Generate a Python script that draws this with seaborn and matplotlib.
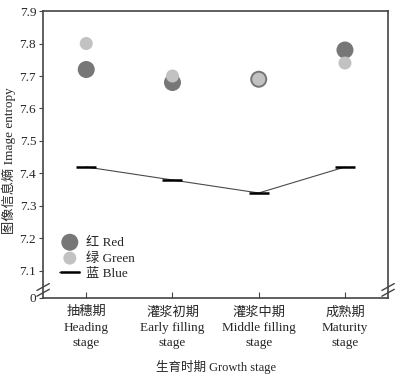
import numpy as np
import pandas as pd
import matplotlib
matplotlib.use("Agg")
import matplotlib.pyplot as plt
import seaborn as sns

stages_cn = ["抽穗期", "灌浆初期", "灌浆中期", "成熟期"]
stages_en = ["Heading\nstage", "Early filling\nstage", "Middle filling\nstage", "Maturity\nstage"]
red = [7.72, 7.68, 7.69, 7.78]
green = [7.80, 7.70, 7.69, 7.74]
blue = [7.42, 7.38, 7.34, 7.42]
yticks = [7.1, 7.2, 7.3, 7.4, 7.5, 7.6, 7.7, 7.8, 7.9]

sns.set_style("ticks")
fonts = ["Liberation Serif", "Noto Sans CJK SC"]
plt.rcParams["font.family"] = fonts
plt.rcParams["axes.unicode_minus"] = False

df = pd.DataFrame({"x": np.arange(len(stages_cn)), "red": red, "green": green, "blue": blue})

fig = plt.figure(figsize=(4.03, 3.80), dpi=100)
ax = fig.add_axes([0.107, 0.216, 0.856, 0.755])

sns.scatterplot(data=df, x="x", y="red", ax=ax, s=150, color="#777777", edgecolor="none", label="红 Red", zorder=3)
sns.scatterplot(data=df, x="x", y="green", ax=ax, s=88, color="#c2c2c2", edgecolor="none", label="绿 Green", zorder=4)
sns.lineplot(data=df, x="x", y="blue", ax=ax, color="#4a4a4a", lw=0.8, marker="_", markersize=15,
             markeredgewidth=1.8, markeredgecolor="black", label="蓝 Blue", zorder=2)

ybot = 7.017
ax.set_xlim(-0.5, 3.5)
ax.set_ylim(ybot, 7.9)
ax.set_yticks([ybot] + yticks)
ax.set_yticklabels(["0"] + [f"{v:.1f}" for v in yticks], fontsize=9.5)
ax.set_xticks(df["x"])
ax.set_xticklabels([c + "\n" + e for c, e in zip(stages_cn, stages_en)], fontsize=9.5, linespacing=1.35)
ax.tick_params(axis="x", direction="in", length=4, color="#444444", pad=6)
ax.tick_params(axis="y", direction="out", length=3, color="#444444", pad=2)
for sp in ax.spines.values():
    sp.set_color("#444444")
    sp.set_linewidth(1.2)

ax.set_xlabel("生育时期 Growth stage", fontsize=9, labelpad=8)
ax.set_ylabel("图像信息熵 Image entropy", fontsize=9.5, labelpad=2)
ax.yaxis.set_label_coords(-0.078, 0.48)

# axis break marks
kw = dict(transform=ax.transAxes, color="#444444", lw=1.0, clip_on=False)
for xx in (0.0, 1.0):
    for dy in (0.018, 0.038):
        ax.plot([xx - 0.018, xx + 0.018], [dy - 0.012, dy + 0.012], **kw)

leg = ax.legend(loc="lower left", bbox_to_anchor=(0.02, 0.03), frameon=False, fontsize=9.5,
                handlelength=1.6, handletextpad=0.4, labelspacing=0.25, borderpad=0.2)

fig.savefig("out.png", dpi=100)
